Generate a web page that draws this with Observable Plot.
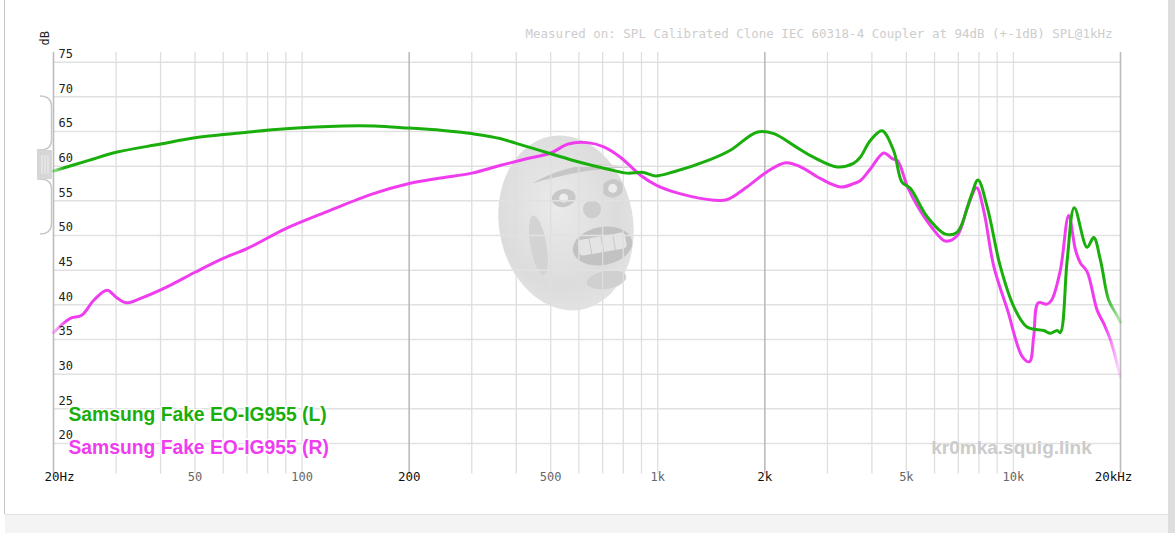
<!DOCTYPE html>
<html><head><meta charset="utf-8">
<script src="https://cdn.jsdelivr.net/npm/d3@7"></script>
<script src="https://cdn.jsdelivr.net/npm/@observablehq/plot@0.6"></script>
<style>
body{margin:0;background:#fff;}
#wrap{position:relative;width:1175px;height:533px;overflow:hidden;background:#fff;}
#wm{position:absolute;left:0;top:0;width:1175px;height:514px;}
#chart{position:absolute;left:0;top:0;}
#leftline{position:absolute;left:4px;top:0;width:1px;height:514px;background:#c4c4c4;}
#bottomband{position:absolute;left:5px;top:514px;width:1163px;height:19px;background:#f4f4f4;border-top:1px solid #e0e0e0;}
#rightstrip{position:absolute;left:1168px;top:0;width:7px;height:533px;background:#dedede;}
</style></head><body>
<div id="wrap">
  <svg id="wm" width="1175" height="514">
    <defs>
      <radialGradient id="face" cx="45%" cy="40%" r="65%">
        <stop offset="0%" stop-color="#eaeaea"/>
        <stop offset="70%" stop-color="#dcdcdc"/>
        <stop offset="100%" stop-color="#e4e4e4"/>
      </radialGradient>
    </defs>
    <g transform="rotate(-10 566 223)">
      <ellipse cx="566" cy="223" rx="67" ry="88" fill="url(#face)"/>
      <path d="M540,178 Q590,160 640,180 Q600,172 540,178 Z" fill="#c6c6c6"/>
      <ellipse cx="568" cy="198" rx="12" ry="9" fill="#c8c8c8"/>
      <ellipse cx="618" cy="197" rx="11" ry="9" fill="#c8c8c8"/>
      <circle cx="568" cy="198" r="4.5" fill="#ececec"/>
      <circle cx="618" cy="197" r="4.5" fill="#ececec"/>
      <ellipse cx="594" cy="214" rx="9" ry="9" fill="#cdcdcd"/>
      <ellipse cx="598" cy="252" rx="30" ry="19" fill="#c2c2c2"/>
      <rect x="574" y="242" width="48" height="16" rx="4" fill="#e4e4e4"/>
      <line x1="586" y1="242" x2="586" y2="258" stroke="#c8c8c8"/>
      <line x1="598" y1="242" x2="598" y2="258" stroke="#c8c8c8"/>
      <line x1="610" y1="242" x2="610" y2="258" stroke="#c8c8c8"/>
      <ellipse cx="596" cy="286" rx="20" ry="9" fill="#d0d0d0"/>
      <ellipse cx="535" cy="240" rx="8" ry="30" fill="#d3d3d3"/>
    </g>
  </svg>
  <div id="chart"></div>
  <svg style="position:absolute;left:0;top:0" width="60" height="260">
    <path d="M40,96 Q51,96 51.5,106 L51.5,140 Q51.5,150 40,150 L38,150 L38,179 L40,179 Q51.5,179 51.5,189 L51.5,224 Q51,234 40,234" fill="none" stroke="#c8c8c8" stroke-width="1.5"/>
    <rect x="38" y="150" width="14" height="29" fill="#d6d6d6"/>
    <line x1="42" y1="155" x2="42" y2="174" stroke="#ededed" stroke-width="1.2"/>
    <line x1="45" y1="155" x2="45" y2="174" stroke="#ededed" stroke-width="1.2"/>
    <line x1="48" y1="155" x2="48" y2="174" stroke="#ededed" stroke-width="1.2"/>
  </svg>
  <div id="leftline"></div>
  <div id="bottomband"></div>
  <div id="rightstrip"></div>
</div>
<script>
// ---- data ----
const freqL = [20,25,30,40,50,70,90,130,160,200,245,280,300,360,400,500,600,720,820,910,985,1110,1380,1600,1900,2120,2410,2740,3190,3550,3710,3960,4270,4600,4860,5130,5720,6440,6950,7580,7950,8440,9190,10030,10920,12160,12700,13270,13550,14160,14830,16110,16820,17570,18530,19550,20000];
const dbL   = [59.3,60.8,62.0,63.2,64.1,64.9,65.4,65.8,65.8,65.5,65.2,64.9,64.7,64.0,63.3,61.8,60.6,59.6,59.0,59.1,58.6,59.2,60.8,62.3,64.9,64.7,63.0,61.3,59.9,60.4,61.3,63.7,65.1,62.3,57.7,56.8,52.7,50.2,50.5,55.5,58.0,54.1,45.5,39.7,36.8,36.3,35.9,36.3,36.0,46.4,54.0,48.3,49.7,46.4,40.7,38.5,37.5];
const freqR = [20,22.2,24,26,28.3,30,32,35,41.7,50,60,70,90,117,158,200,245,300,360,430,500,560,633,705,785,894,996,1160,1440,1570,1780,2030,2290,2520,2870,3270,3560,3710,3960,4320,4560,4720,5040,5390,5890,6440,6950,7430,7880,8250,8810,9630,10600,11100,11400,11750,12420,12810,13550,14300,14950,15440,16110,17200,17950,18760,20000];
const dbR   = [36.0,38.0,38.5,40.7,42.1,41.1,40.3,40.9,42.6,44.7,46.7,48.1,51.0,53.4,56.0,57.5,58.3,59.0,60.1,61.1,61.9,63.2,63.4,62.8,61.3,58.7,57.2,56.0,55.1,55.2,57.0,59.2,60.5,59.9,58.2,57.0,57.5,57.9,59.6,61.9,61.1,60.8,57.0,54.1,51.2,49.2,50.0,54.1,56.9,53.6,45.5,39.2,32.5,31.8,35.4,40.3,40.1,40.7,45.0,52.9,47.9,46.0,44.8,39.2,37.3,34.9,29.6];
const seriesNames = ["Samsung Fake EO-IG955 (L)", "Samsung Fake EO-IG955 (R)"];
const seriesColors = ["#1aae0c", "#ef3cef"];
const yTicks = [20,25,30,35,40,45,50,55,60,65,70,75];
const xMinorGrid = [30,40,50,60,70,80,90,100,300,400,500,600,700,800,900,1000,3000,4000,5000,6000,7000,8000,9000,10000];
const xMajorGrid = [20,200,2000,20000];
const xLabelFreqs = [20,50,100,200,500,1000,2000,5000,10000,20000];
const xLabelTexts = ["20Hz","50","100","200","500","1k","2k","5k","10k","20kHz"];
const xLabelMajor = [true,false,false,true,false,false,true,false,false,true];
const xLabelShift = [6,0,0,0,0,0,0,0,0,-7];
const measuredText = "Measured on: SPL Calibrated Clone IEC 60318-4 Coupler at 94dB (+-1dB) SPL@1kHz";
const watermarkText = "kr0mka.squig.link";
const yUnit = "dB";

// ---- tables ----
const L = freqL.map((f,i)=>({f, db: dbL[i]}));
const R = freqR.map((f,i)=>({f, db: dbR[i]}));
const xLabels = xLabelFreqs.map((f,i)=>({f, t: xLabelTexts[i], major: xLabelMajor[i], dx: xLabelShift[i]}));
const mono = "'DejaVu Sans Mono', 'Liberation Mono', monospace";
const sans = "'Liberation Sans', Arial, sans-serif";
const gridBottom = 15.6, gridTop = 76.4;

function fadeLine(id, stops) {
  return (index, scales, values, dims, ctx, next) => {
    const g = next(index, scales, values, dims, ctx);
    const x0 = scales.x(20), x1 = scales.x(20000);
    const grad = d3.select(g).append("defs").append("linearGradient")
      .attr("id", id).attr("gradientUnits", "userSpaceOnUse")
      .attr("x1", x0).attr("x2", x1).attr("y1", 0).attr("y2", 0);
    for (const [o, a, c] of stops) grad.append("stop").attr("offset", o).attr("stop-color", c).attr("stop-opacity", a);
    d3.select(g).selectAll("path").attr("stroke", `url(#${id})`);
    return g;
  };
}
const majorLabels = xLabels.filter(d => d.major);

const chart = Plot.plot({
  width: 1175, height: 514,
  marginLeft: 0, marginRight: 0, marginTop: 0, marginBottom: 0,
  x: {type: "log", domain: [20, 20000], range: [53, 1120], axis: null},
  y: {type: "linear", domain: [20, 75], range: [443, 61.7], axis: null},
  style: {background: "transparent", overflow: "visible"},
  marks: [
    Plot.ruleY(yTicks, {x1: 20, x2: 20000, stroke: "#e1e1e1", strokeWidth: 1.5}),
    Plot.ruleX(xMinorGrid, {y1: gridBottom, y2: gridTop, stroke: "#dedede", strokeWidth: 1.3}),
    Plot.ruleX(xMajorGrid, {y1: gridBottom, y2: gridTop, stroke: "#bcbcbc", strokeWidth: 1.6}),
    Plot.line(R, {x: "f", y: "db", stroke: seriesColors[1], strokeWidth: 3, curve: "catmull-rom",
      render: fadeLine("fadeR", [[0, 0.35, seriesColors[1]], [0.012, 1, seriesColors[1]], [0.985, 1, seriesColors[1]], [1, 0.1, seriesColors[1]]])}),
    Plot.line(L, {x: "f", y: "db", stroke: seriesColors[0], strokeWidth: 3, curve: "catmull-rom",
      render: fadeLine("fadeL", [[0, 0.4, seriesColors[0]], [0.01, 1, seriesColors[0]], [0.985, 1, seriesColors[0]], [1, 0.25, seriesColors[0]]])}),
    Plot.text(yTicks, {x: 20, y: d => d, text: d => String(d), dx: 5, dy: -8, textAnchor: "start", fontSize: 12, fill: "#222", fontFamily: mono}),
    Plot.text(xLabels.filter(d => !d.major), {x: "f", y: gridBottom, text: "t", dy: 3, fontSize: 12, fill: "#666", fontFamily: mono}),
    Plot.text(majorLabels, {x: "f", y: gridBottom, text: "t", dy: 3, fontSize: 12.5, fill: "#111", fontFamily: mono,
      render: (index, scales, values, dims, ctx, next) => {
        const g = next(index, scales, values, dims, ctx);
        d3.select(g).selectAll("text").each(function(_, j){
          const s = d3.select(this);
          const tr = s.attr("transform") || "";
          s.attr("transform", tr + ` translate(${majorLabels[index[j]].dx},0)`);
        });
        return g;
      }}),
    Plot.text([measuredText], {frameAnchor: "top-right", dx: -63, dy: 33, lineAnchor: "middle", textAnchor: "end", fontSize: 12.5, fill: "#cdcdcd", fontFamily: mono}),
    Plot.text([yUnit], {frameAnchor: "top-left", dx: 45, dy: 45, lineAnchor: "middle", rotate: -90, fontSize: 12, fill: "#222", fontFamily: mono}),
    Plot.text([watermarkText], {frameAnchor: "top-left", dx: 1011, dy: 447, lineAnchor: "middle", textAnchor: "middle", fontSize: 19, fontWeight: "bold", fill: "#cbcbcb", fontFamily: sans}),
    Plot.text([seriesNames[0]], {frameAnchor: "top-left", dx: 68, dy: 414, lineAnchor: "middle", textAnchor: "start", fontSize: 19.3, fontWeight: "bold", fill: seriesColors[0], stroke: "white", strokeWidth: 3, paintOrder: "stroke", fontFamily: sans}),
    Plot.text([seriesNames[1]], {frameAnchor: "top-left", dx: 68, dy: 447, lineAnchor: "middle", textAnchor: "start", fontSize: 19.3, fontWeight: "bold", fill: seriesColors[1], stroke: "white", strokeWidth: 3, paintOrder: "stroke", fontFamily: sans})
  ]
});
document.getElementById("chart").appendChild(chart);
</script>
</body></html>
